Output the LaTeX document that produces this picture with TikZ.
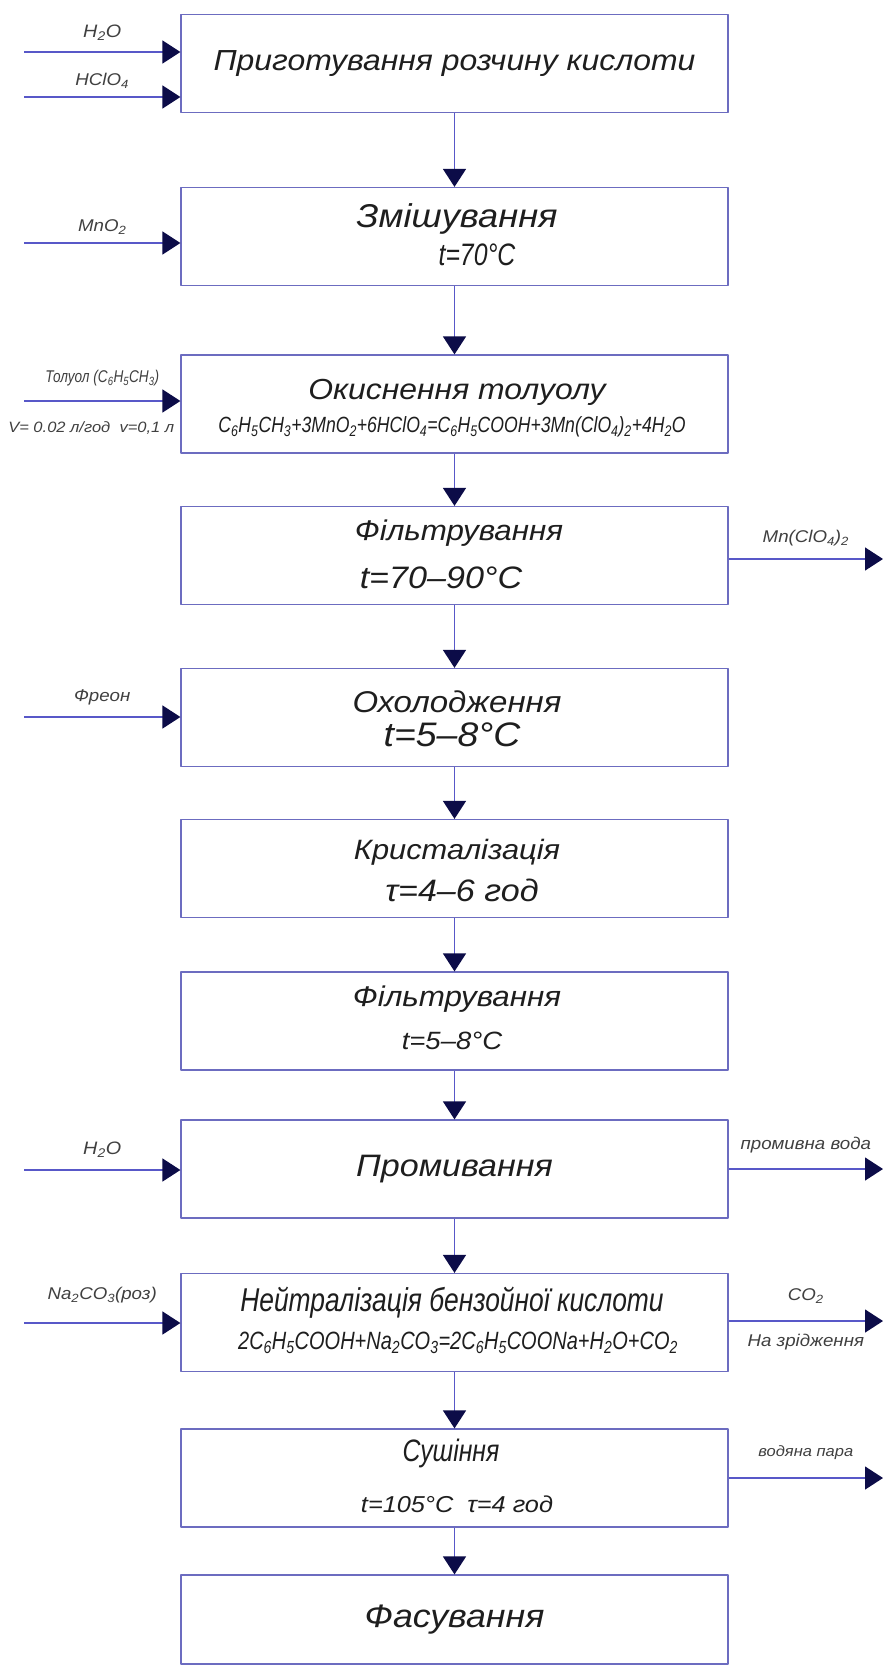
\documentclass[tikz,border=0pt]{standalone}
\usepackage{fontspec}
\setmainfont{Liberation Sans}[FakeStretch=1.1]
\newfontfamily\narrowfam{Liberation Sans}[FakeStretch=0.8]
\usetikzlibrary{arrows.meta,calc}

\definecolor{boxblue}{HTML}{6C6CC0}
\definecolor{lineblue}{HTML}{5858C8}
\definecolor{tipnavy}{HTML}{0C0C48}
\definecolor{ink}{HTML}{1E1E1E}

\newcommand\dn[1]{\textsubscript{#1}}

\tikzset{
  stage/.style={draw=boxblue, line width=1.2pt, minimum width=547pt,
    minimum height=98pt, inner sep=0pt},
  title/.style={inner sep=0pt, text=ink, font=\fontsize{#1}{#1}\selectfont\itshape},
  title/.default=31,
  slim/.style={inner sep=0pt, text=ink, font=\narrowfam\fontsize{#1}{#1}\selectfont\itshape},
  slim/.default=31,
  side/.style={inner sep=0pt, text=ink!85, font=\fontsize{#1}{#1}\selectfont\itshape},
  side/.default=17,
  flow/.style={draw=lineblue, line width=1.4pt,
    -{Triangle[length=18pt,width=23pt,color=tipnavy]}}
}

\begin{document}
\begin{tikzpicture}[x=1pt, y=-1pt, line join=round]

  % Page
  \fill[white] (0,0) rectangle (883,1667);
  \useasboundingbox (0,0) rectangle (883,1667);

  % Process stages
  \node[stage, title=29] (prep) at (454.5,63.5) {Приготування розчину кислоти};
  \node[stage] (mix) at (454.5,236.5) {};
  \node[stage] (oxid) at (454.5,404) {};
  \node[stage] (filt1) at (454.5,555.5) {};
  \node[stage] (cool) at (454.5,717.5) {};
  \node[stage] (cryst) at (454.5,868.5) {};
  \node[stage] (filt2) at (454.5,1021) {};
  \node[stage, title] (wash) at (454.5,1169) {Промивання};
  \node[stage] (neut) at (454.5,1322.5) {};
  \node[stage] (dry) at (454.5,1478) {};
  \node[stage, title=32.5, minimum height=89pt] (pack) at (454.5,1619.5) {Фасування};

  % Two-line texts
  \node[title=33] (mix-a) at (457,219) {Змішування};
  \node[slim] (mix-b) at (477,255) {t=70°C};
  \node[title=29] (oxid-a) at (457,392) {Окиснення толуолу};
  \node[slim=22] (oxid-b) at (452,427) {C\dn{6}H\dn{5}CH\dn{3}+3MnO\dn{2}+6HClO\dn{4}=C\dn{6}H\dn{5}COOH+3Mn(ClO\dn{4})\dn{2}+4H\dn{2}O};
  \node[title=28.5] (filt1-a) at (459,533) {Фільтрування};
  \node[title] (filt1-b) at (441,578) {t=70–90°C};
  \node[title=30] (cool-a) at (457,702) {Охолодження};
  \node[title=34] (cool-b) at (452,735) {t=5–8°C};
  \node[title=28] (cryst-a) at (457,852) {Кристалізація};
  \node[title] (cryst-b) at (462,890) {τ=4–6 год};
  \node[title=28.5] (filt2-a) at (457,999) {Фільтрування};
  \node[title=25] (filt2-b) at (452,1041) {t=5–8°C};
  \node[slim=33] (neut-a) at (452,1303) {Нейтралізація бензойної кислоти};
  \node[slim=25] (neut-b) at (458,1343) {2C\dn{6}H\dn{5}COOH+Na\dn{2}CO\dn{3}=2C\dn{6}H\dn{5}COONa+H\dn{2}O+CO\dn{2}};
  \node[slim] (dry-a) at (451,1453) {Сушіння};
  \node[title=23] (dry-b) at (457,1504) {t=105°C\ \ τ=4 год};

  % Main line between stages
  \draw[flow] (prep) -- (mix);
  \draw[flow] (mix) -- (oxid);
  \draw[flow] (oxid) -- (filt1);
  \draw[flow] (filt1) -- (cool);
  \draw[flow] (cool) -- (cryst);
  \draw[flow] (cryst) -- (filt2);
  \draw[flow] (filt2) -- (wash);
  \draw[flow] (wash) -- (neut);
  \draw[flow] (neut) -- (dry);
  \draw[flow] (dry) -- (pack);

  % Feeds on the left
  \coordinate (in-water1) at (24,52);
  \coordinate (in-acid) at (24,97);
  \coordinate (in-mno) at (24,243);
  \coordinate (in-tol) at (24,401);
  \coordinate (in-freon) at (24,717);
  \coordinate (in-water2) at (24,1170);
  \coordinate (in-soda) at (24,1323);
  \draw[flow] (in-water1) -- (in-water1 -| prep.west) node[side=18, midway, above=11pt] (l-water1) {H\dn{2}O};
  \draw[flow] (in-acid) -- (in-acid -| prep.west) node[side, midway, above=8pt] (l-acid) {HClO\dn{4}};
  \draw[flow] (in-mno) -- (in-mno -| mix.west) node[side, midway, above=8pt] (l-mno) {MnO\dn{2}};
  \draw[flow] (in-tol) -- (in-tol -| oxid.west)
    node[slim=17, text=ink!85, midway, above=14pt] (l-tol) {Толуол (C\dn{6}H\dn{5}CH\dn{3})}
    node[side=15, pos=0.43, below=20pt] (l-rate) {V= 0.02 л/год\ \ v=0,1 л};
  \draw[flow] (in-freon) -- (in-freon -| cool.west) node[side, midway, above=11pt] (l-freon) {Фреон};
  \draw[flow] (in-water2) -- (in-water2 -| wash.west) node[side=18, midway, above=12pt] (l-water2) {H\dn{2}O};
  \draw[flow] (in-soda) -- (in-soda -| neut.west) node[side, midway, above=19pt] (l-soda) {Na\dn{2}CO\dn{3}(роз)};

  % Products on the right
  \coordinate (out-salt) at (883,559);
  \coordinate (out-wash) at (883,1169);
  \coordinate (out-gas) at (883,1321);
  \coordinate (out-steam) at (883,1478);
  \draw[flow] (out-salt -| filt1.east) -- (out-salt) node[side, midway, above=12pt] (l-salt) {Mn(ClO\dn{4})\dn{2}};
  \draw[flow] (out-wash -| wash.east) -- (out-wash) node[side, midway, above=15pt] (l-wash) {промивна вода};
  \draw[flow] (out-gas -| neut.east) -- (out-gas)
    node[side, midway, above=17pt] (l-gas) {CO\dn{2}}
    node[side, midway, below=12pt] (l-liq) {На зрідження};
  \draw[flow] (out-steam -| dry.east) -- (out-steam) node[side=15, midway, above=18pt] (l-steam) {водяна пара};

\end{tikzpicture}
\end{document}
